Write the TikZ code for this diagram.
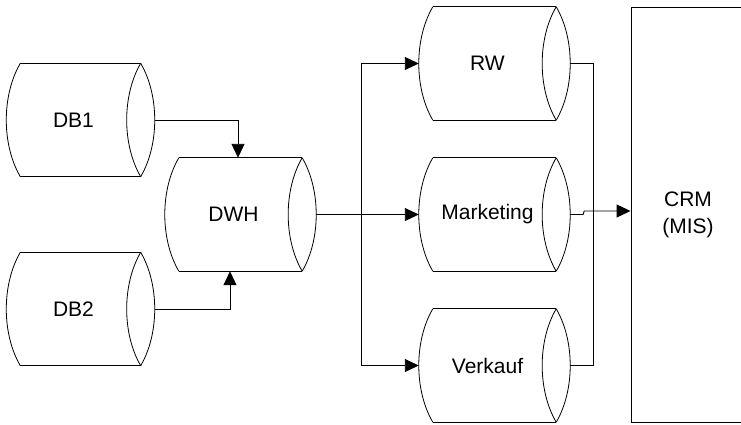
\documentclass[tikz,border=0pt]{standalone}
\usepackage{fontspec}
\setmainfont{Liberation Sans}
\usetikzlibrary{calc,arrows.meta}
\tikzset{
  cylbox/.style={rectangle, minimum width=151pt, minimum height=113pt, inner sep=0pt},
  cyltext/.style={font=\fontsize{21}{24}\selectfont, inner sep=0pt},
  conn/.style={draw=black, line width=0.9pt},
  arr/.style={conn, -{Triangle[length=14pt,width=13pt]}},
  crmbox/.style={draw, line width=0.9pt, minimum width=114pt, minimum height=415pt,
    align=center, inner sep=0pt, font=\fontsize{21}{27}\selectfont},
  outline/.style={draw=black, line width=0.8pt},
}
\newcommand\drawcyl[1]{%
  \draw[outline] ($(#1.north west)+(14,0)$) coordinate (#1-tl)
     -- ($(#1.north east)+(-14,0)$) coordinate (#1-tr);
  \draw[outline] ($(#1.south west)+(14,0)$) coordinate (#1-bl)
     -- ($(#1.south east)+(-14,0)$) coordinate (#1-br);
  \draw[outline] (#1-tl) .. controls ($(#1-tl)+(-18.7,32)$) and ($(#1-bl)+(-18.7,-32)$) .. (#1-bl);
  \draw[outline] (#1-tr) .. controls ($(#1-tr)+(-18.7,32)$) and ($(#1-br)+(-18.7,-32)$) .. (#1-br);
  \draw[outline] (#1-tr) .. controls ($(#1-tr)+(18.7,32)$) and ($(#1-br)+(18.7,-32)$) .. (#1-br);
}
\begin{document}
\begin{tikzpicture}[x=1pt, y=-1pt]
  \useasboundingbox (0,0) rectangle (741,425);
  \clip (0,0) rectangle (741,425);

  \node[cylbox, minimum width=148pt, label={[cyltext,xshift=-7pt]center:DB1}] (DB1) at (80.5,120) {};
  \node[cylbox, minimum width=148pt, label={[cyltext,xshift=-7pt]center:DB2}] (DB2) at (80.5,309) {};
  \node[cylbox, label={[cyltext,xshift=-7pt]center:DWH}] (DWH) at (240.5,214.5) {};
  \node[cylbox, label={[cyltext,xshift=-7pt]center:RW}] (RW) at (494.5,63.5) {};
  \node[cylbox, label={[cyltext,xshift=-7pt]center:Marketing}] (Marketing) at (494.5,214.5) {};
  \node[cylbox, label={[cyltext,xshift=-7pt]center:Verkauf}] (Verkauf) at (494.5,365.5) {};
  \node[crmbox] (CRM) at (688,214.5) {CRM\\(MIS)};

  \drawcyl{DB1}
  \drawcyl{DB2}
  \drawcyl{DWH}
  \drawcyl{RW}
  \drawcyl{Marketing}
  \drawcyl{Verkauf}

  \draw[arr] (DB1.east) -| ($(DWH.north)+(-2.5,0)$);
  \draw[arr] (DB2.east) -| ($(DWH.south)+(-10.5,0)$);

  \coordinate (split) at ($(DWH.east)+(45,0)$);
  \draw[conn] (DWH.east) -- (split);
  \draw[arr] (split) |- (RW.west);
  \draw[arr] (split) -- (Marketing.west);
  \draw[arr] (split) |- (Verkauf.west);

  \coordinate (merge) at ($(Marketing.east)+(23,-3.5)$);
  \draw[conn] (RW.east) -| (merge);
  \draw[conn] (Verkauf.east) -| (merge);
  \draw[arr] (Marketing.east) -- ++(13,0) -- ++(1,-3.5) -- ($(CRM.west)+(0,-3.5)$);
\end{tikzpicture}
\end{document}
